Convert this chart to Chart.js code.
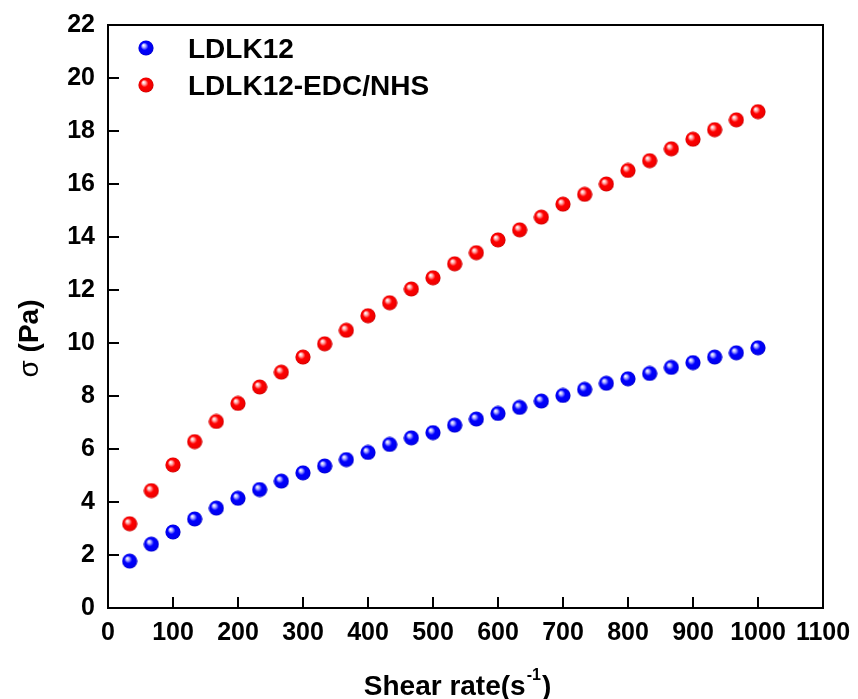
<!DOCTYPE html>
<html><head><meta charset="utf-8">
<script src="https://cdn.jsdelivr.net/npm/chart.js@4.4.1/dist/chart.umd.min.js"></script>
<style>html,body{margin:0;padding:0;background:#fff;}#wrap{width:858px;height:699px;}</style>
</head><body><div id="wrap"><canvas id="c" width="858" height="699"></canvas></div>
<script>
// ---- data ----
const shearRate = [33.3, 66.7, 100, 133.3, 166.7, 200, 233.3, 266.7, 300, 333.3,
                   366.7, 400, 433.3, 466.7, 500, 533.3, 566.7, 600, 633.3, 666.7,
                   700, 733.3, 766.7, 800, 833.3, 866.7, 900, 933.3, 966.7, 1000];
const ldlk12 = [1.77, 2.41, 2.87, 3.36, 3.77, 4.14, 4.47, 4.79, 5.10, 5.36,
                5.60, 5.87, 6.17, 6.42, 6.62, 6.90, 7.13, 7.34, 7.57, 7.81,
                8.02, 8.25, 8.48, 8.65, 8.85, 9.08, 9.26, 9.47, 9.63, 9.82];
const ldlk12EdcNhs = [3.18, 4.43, 5.40, 6.28, 7.04, 7.72, 8.34, 8.90, 9.47, 9.97,
                      10.48, 11.03, 11.52, 12.04, 12.46, 12.99, 13.41, 13.89, 14.27, 14.75,
                      15.24, 15.61, 16.00, 16.51, 16.88, 17.33, 17.69, 18.05, 18.42, 18.73];
const seriesNames = ['LDLK12', 'LDLK12-EDC/NHS'];
const xTickValues = [0, 100, 200, 300, 400, 500, 600, 700, 800, 900, 1000, 1100];
const yTickValues = [0, 2, 4, 6, 8, 10, 12, 14, 16, 18, 20, 22];
const xTitleMain = 'Shear rate(s';
const xTitleSup = '-1';
const xTitleEnd = ')';
const yTitleSym = 'σ';
const yTitleRest = ' (Pa)';

const FONT = "'Liberation Sans', Arial, sans-serif";

function sphere(base, dark) {
  const d = 16, c = document.createElement('canvas');
  c.width = d; c.height = d;
  const g = c.getContext('2d');
  const r = d / 2;
  const grad = g.createRadialGradient(r - 2.6, r - 2.8, 0.3, r, r, r);
  grad.addColorStop(0, '#ffffff');
  grad.addColorStop(0.2, base === 'blue' ? '#a8a8ff' : '#ffa8a8');
  grad.addColorStop(0.45, base === 'blue' ? '#0000ff' : '#ff0000');
  grad.addColorStop(0.85, base === 'blue' ? '#0000ee' : '#ee0000');
  grad.addColorStop(1, dark);
  g.fillStyle = grad;
  g.beginPath(); g.arc(r, r, r - 0.4, 0, Math.PI * 2); g.fill();
  return c;
}
const blueBall = sphere('blue', '#0000b0');
const redBall = sphere('red', '#b00000');

const framePlugin = {
  id: 'frame',
  afterDraw(chart) {
    const ctx = chart.ctx, a = chart.chartArea;
    const xs = chart.scales.x, ys = chart.scales.y;
    ctx.save();
    ctx.strokeStyle = '#000';
    ctx.lineWidth = 2;
    ctx.strokeRect(a.left, a.top, a.right - a.left, a.bottom - a.top);
    // inward ticks
    ctx.beginPath();
    xTickValues.forEach(v => {
      if (v === xs.min || v === xs.max) return;
      const px = Math.round(xs.getPixelForValue(v));
      ctx.moveTo(px, a.bottom); ctx.lineTo(px, a.bottom - 11);
    });
    yTickValues.forEach(v => {
      if (v === ys.min || v === ys.max) return;
      const py = Math.round(ys.getPixelForValue(v));
      ctx.moveTo(a.left, py); ctx.lineTo(a.left + 11, py);
    });
    ctx.stroke();

    // legend
    const balls = [blueBall, redBall];
    ctx.fillStyle = '#000';
    ctx.font = 'bold 28px ' + FONT;
    ctx.textBaseline = 'alphabetic';
    ctx.textAlign = 'left';
    chart.data.datasets.forEach((ds, i) => {
      const cy = a.top + 23 + i * 37;
      ctx.drawImage(balls[i], a.left + 38 - 8, cy - 8);
      ctx.fillText(ds.label, a.left + 80, cy + 10);
    });

    // x title
    ctx.font = 'bold 28px ' + FONT;
    const w1 = ctx.measureText(xTitleMain).width;
    const w3 = ctx.measureText(xTitleEnd).width;
    ctx.font = 'bold 16px ' + FONT;
    const w2 = ctx.measureText(xTitleSup).width;
    let x0 = (a.left + a.right) / 2 - 9 - (w1 + w2 + w3) / 2;
    const by = 695;
    ctx.font = 'bold 28px ' + FONT;
    ctx.fillText(xTitleMain, x0, by);
    ctx.font = 'bold 16px ' + FONT;
    ctx.fillText(xTitleSup, x0 + w1 + 1, by - 15);
    ctx.font = 'bold 28px ' + FONT;
    ctx.fillText(xTitleEnd, x0 + w1 + w2 + 2, by);

    // y title
    ctx.save();
    ctx.translate(38, (a.top + a.bottom) / 2 + 22);
    ctx.rotate(-Math.PI / 2);
    ctx.font = '28px ' + FONT;
    const s1 = ctx.measureText(yTitleSym).width;
    ctx.font = 'bold 28px ' + FONT;
    const s2 = ctx.measureText(yTitleRest).width;
    const sx = -(s1 + s2) / 2;
    ctx.font = '28px ' + FONT;
    ctx.fillText(yTitleSym, sx, 0);
    ctx.font = 'bold 28px ' + FONT;
    ctx.fillText(yTitleRest, sx + s1, 0);
    ctx.restore();
    ctx.restore();
  }
};

new Chart(document.getElementById('c'), {
  type: 'scatter',
  data: {
    datasets: [
      { label: seriesNames[0], data: shearRate.map((x, i) => ({ x, y: ldlk12[i] })),
        pointStyle: blueBall, pointRadius: 8, showLine: false },
      { label: seriesNames[1], data: shearRate.map((x, i) => ({ x, y: ldlk12EdcNhs[i] })),
        pointStyle: redBall, pointRadius: 8, showLine: false }
    ]
  },
  options: {
    responsive: false,
    animation: false,
    devicePixelRatio: 1,
    layout: { padding: { top: 25, right: 35, left: 0, bottom: 0 } },
    plugins: { legend: { display: false }, tooltip: { enabled: false } },
    scales: {
      x: {
        type: 'linear', min: 0, max: 1100,
        afterBuildTicks: s => { s.ticks = xTickValues.map(v => ({ value: v })); },
        afterFit: s => { s.height = 91; s.paddingRight = 0; s.paddingLeft = 0; },
        ticks: { color: '#000', font: { family: FONT, size: 25, weight: 'bold' }, padding: 10, maxRotation: 0, autoSkip: false,
                 callback: v => String(v) },
        grid: { display: false, drawTicks: false },
        border: { display: false }
      },
      y: {
        type: 'linear', min: 0, max: 22,
        afterBuildTicks: s => { s.ticks = yTickValues.map(v => ({ value: v })); },
        afterFit: s => { s.width = 108; s.paddingTop = 0; s.paddingBottom = 0; },
        ticks: { color: '#000', font: { family: FONT, size: 25, weight: 'bold' }, padding: 13, autoSkip: false,
                 callback: v => String(v) },
        grid: { display: false, drawTicks: false },
        border: { display: false }
      }
    }
  },
  plugins: [framePlugin]
});
</script>
</body></html>
